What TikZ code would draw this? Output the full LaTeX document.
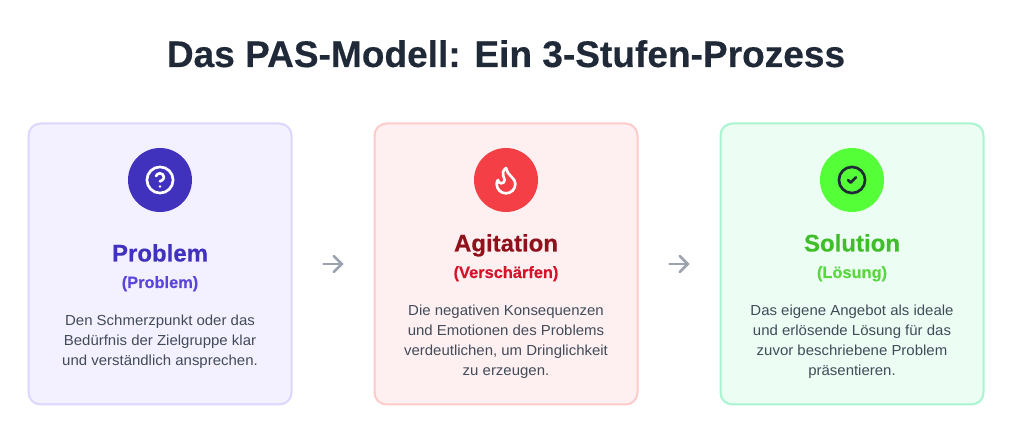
\documentclass[tikz,border=0pt]{standalone}
\usepackage{fontspec}
\setmainfont[BoldFeatures={FakeBold=0.35}]{Liberation Sans}
\newfontfamily\bodyfont[FakeStretch=1.03]{Liberation Sans}
\usepackage{xcolor}
\usetikzlibrary{arrows.meta}

\definecolor{titlecol}{HTML}{1F2937}
\definecolor{textcol}{HTML}{414B59}
\definecolor{arrowcol}{HTML}{9CA3AF}
\definecolor{probfill}{HTML}{F3F0FF}
\definecolor{probline}{HTML}{DDD6FE}
\definecolor{probdark}{HTML}{4032BD}
\definecolor{probsub}{HTML}{5B46DC}
\definecolor{agitfill}{HTML}{FEF0F0}
\definecolor{agitline}{HTML}{FECACA}
\definecolor{agitcirc}{HTML}{F43F46}
\definecolor{agitdark}{HTML}{8F111B}
\definecolor{agitsub}{HTML}{D5132A}
\definecolor{solfill}{HTML}{ECFDF3}
\definecolor{solline}{HTML}{A9F5CF}
\definecolor{solcirc}{HTML}{55FF38}
\definecolor{soldark}{HTML}{40BE2A}
\definecolor{solsub}{HTML}{58D83E}

\tikzset{
  card/.style={draw, line width=1.5pt, rounded corners=9pt, minimum width=197.25pt, minimum height=210.75pt, inner sep=0pt},
  badge/.style={circle, minimum size=48pt, inner sep=0pt},
  heading/.style={anchor=base, font=\bfseries\fontsize{18}{22}\selectfont},
  subheading/.style={anchor=base, font=\bfseries\fontsize{12.3}{15}\selectfont},
  body/.style={anchor=base, align=center, text=textcol, font=\bodyfont\fontsize{10.9}{15}\selectfont},
  flow/.style={draw=arrowcol, line width=1.9pt, line cap=round, -{Straight Barb[length=6pt, width=12pt, line cap=round]}},
  icon/.style={line width=2pt, line cap=round, line join=round}
}

\begin{document}
\begin{tikzpicture}[x=0.75pt, y=-0.75pt]
\useasboundingbox (0,0) rectangle (1014,441);

\node[anchor=base, text=titlecol, font=\bfseries\fontsize{27.8}{32}\selectfont] (title) at (506,67) {Das PAS-Modell: Ein 3-Stufen-Prozess};

\node[card, draw=probline, fill=probfill] (problem) at (160,264) {};
\node[card, draw=agitline, fill=agitfill] (agitation) at (506,264) {};
\node[card, draw=solline, fill=solfill] (solution) at (852,264) {};

\draw[flow, shorten <=23.25pt, shorten >=22.5pt] (problem.east) -- (agitation.west);
\draw[flow, shorten <=23.25pt, shorten >=22.5pt] (agitation.east) -- (solution.west);

\node[badge, fill=probdark] (probbadge) at (160,180) {};
\node[badge, fill=agitcirc] (agitbadge) at (506,180) {};
\node[badge, fill=solcirc] (solbadge) at (852,180) {};

% question mark
\begin{scope}[shift={(144,164)}, x=1pt, y=-1pt, icon, draw=white]
\draw (12,12) circle (9.8);
\draw (9.09,9) .. controls (9.5,7.8) and (10.7,7) .. (12,7) .. controls (13.65,7) and (14.92,8.35) .. (14.92,10) .. controls (14.92,12) and (11.92,13) .. (11.92,13);
\draw (12,17) -- (12.01,17);
\end{scope}

% flame
\begin{scope}[shift={(490,164)}, x=1pt, y=-1pt, icon, draw=white]
\draw (8.5,14.5) .. controls (9.88,14.5) and (11,13.38) .. (11,12)
  .. controls (11,10.62) and (10.5,10) .. (10,9)
  .. controls (8.93,6.86) and (9.78,4.95) .. (12,3)
  .. controls (12.5,5.5) and (14,7.9) .. (16,9.5)
  .. controls (18,11.1) and (19,13) .. (19,15)
  .. controls (19,18.87) and (15.87,22) .. (12,22)
  .. controls (8.13,22) and (5,18.87) .. (5,15)
  .. controls (5,13.85) and (5.43,12.71) .. (6,12)
  .. controls (6,13.38) and (7.12,14.5) .. (8.5,14.5) -- cycle;
\end{scope}

% check mark
\begin{scope}[shift={(836,164)}, x=1pt, y=-1pt, icon, draw=titlecol]
\draw (12,12) circle (9.8);
\draw (9,12) -- (11,14) -- (15,10);
\end{scope}

\node[heading, text=probdark] (probname) at (160,261.5) {Problem};
\node[subheading, text=probsub] (probsubname) at (160,288) {(Problem)};
\node[body] (probtext) at (160,366) {Den Schmerzpunkt oder das\\Bedürfnis der Zielgruppe klar\\und verständlich ansprechen.};

\node[heading, text=agitdark] (agitname) at (506,251.5) {Agitation};
\node[subheading, text=agitsub] (agitsubname) at (506,278) {(Verschärfen)};
\node[body] (agittext) at (506,376) {Die negativen Konsequenzen\\und Emotionen des Problems\\verdeutlichen, um Dringlichkeit\\zu erzeugen.};

\node[heading, text=soldark] (solname) at (852,251.5) {Solution};
\node[subheading, text=solsub] (solsubname) at (852,278) {(Lösung)};
\node[body] (soltext) at (852,376) {Das eigene Angebot als ideale\\und erlösende Lösung für das\\zuvor beschriebene Problem\\präsentieren.};
\end{tikzpicture}
\end{document}
